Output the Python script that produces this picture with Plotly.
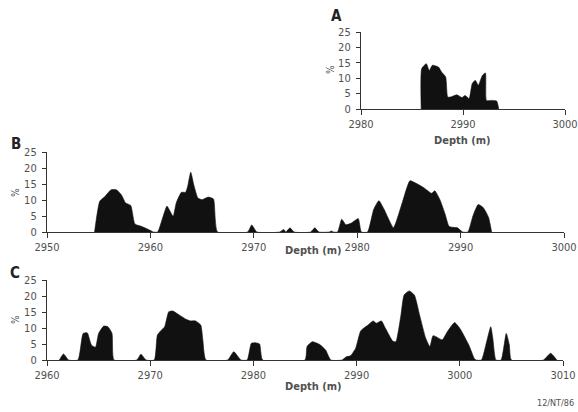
import plotly.graph_objects as go

# Percentage profiles versus depth for three wells (A, B, C)
depth_a = [2985.9, 2985.95, 2986.4, 2986.7, 2987.0, 2987.6, 2987.9, 2988.3, 2988.5, 2988.8,
           2989.4, 2989.9, 2990.2, 2990.6, 2990.9, 2991.2, 2991.5, 2991.9, 2992.2, 2992.3,
           2992.8, 2993.3, 2993.5]
pct_a = [0, 13.1, 14.7, 12.5, 14.2, 13.6, 12.0, 10.4, 3.9, 3.9,
         4.6, 3.7, 4.4, 3.4, 8.2, 9.3, 7.7, 10.9, 11.7, 2.8,
         2.8, 2.6, 0]

depth_b = [2954.6, 2955.1, 2955.6, 2956.2, 2956.7, 2957.2, 2957.6, 2958.1, 2958.5, 2959.1,
           2959.8, 2960.3, 2960.7, 2961.2, 2961.6, 2961.8, 2962.2, 2962.5, 2963.0, 2963.4,
           2963.6, 2963.9, 2964.2, 2964.6, 2965.0, 2965.6, 2966.1, 2966.5,
           2969.4, 2969.8, 2970.3, 2972.5, 2972.9, 2973.1, 2973.5, 2973.9,
           2975.5, 2975.9, 2976.3, 2977.3, 2977.5, 2977.7,
           2978.1, 2978.5, 2978.9, 2979.4, 2980.1, 2980.4,
           2981.0, 2981.6, 2982.1, 2982.6, 2983.5, 2983.8, 2984.4, 2985.1, 2985.7, 2986.5,
           2987.2, 2987.5, 2988.0, 2988.5, 2988.9, 2989.7, 2990.2,
           2990.7, 2991.2, 2991.7, 2992.2, 2992.7, 2993.0]
pct_b = [0, 9.6, 11.1, 13.2, 13.2, 11.6, 9.1, 8.3, 2.5, 1.8,
         0.8, 0, 0, 4.6, 8.1, 7.1, 4.9, 9.1, 12.4, 12.4,
         14.2, 18.7, 14.7, 10.6, 10.1, 10.9, 10.3, 0,
         0, 2.2, 0, 0, 0.8, 0, 1.3, 0,
         0, 1.3, 0, 0, 0.3, 0,
         0, 4.0, 2.3, 2.7, 4.2, 0,
         0, 7.1, 9.8, 7.1, 1.3, 3.5, 9.6, 16.0, 15.2, 13.7,
         12.1, 12.9, 10.1, 5.6, 1.7, 1.3, 0,
         0, 5.1, 8.6, 7.6, 4.6, 0]

depth_c = [2961.2, 2961.6, 2962.1,
           2963.0, 2963.5, 2963.9, 2964.3, 2964.7, 2965.0, 2965.5, 2965.9, 2966.3, 2966.5,
           2968.7, 2969.1, 2969.6,
           2970.4, 2970.7, 2971.1, 2971.4, 2971.8, 2972.2, 2972.8, 2973.5, 2973.9, 2974.4,
           2974.9, 2975.1, 2975.4,
           2977.5, 2978.1, 2978.8,
           2979.4, 2979.8, 2980.2, 2980.6, 2980.9,
           2985.0, 2985.2, 2985.7, 2986.4, 2987.0, 2987.5,
           2988.6, 2989.0, 2989.4, 2989.9, 2990.4, 2991.1, 2991.6, 2991.9, 2992.4, 2992.8,
           2993.5, 2993.8, 2994.3, 2994.6, 2995.1, 2995.6, 2996.1, 2996.7, 2997.1, 2997.4,
           2997.7, 2998.3, 2998.8, 2999.5, 3000.1, 3000.9, 3001.4, 3001.6,
           3002.1, 3002.6, 3003.0, 3003.2, 3003.5,
           3004.0, 3004.5, 3004.8, 3005.0,
           3008.1, 3008.8, 3009.4]
pct_c = [0, 1.9, 0,
         0, 8.3, 8.5, 4.7, 4.0, 8.3, 10.6, 10.4, 8.3, 0,
         0, 1.8, 0,
         0, 7.8, 9.4, 10.4, 15.1, 15.3, 14.1, 12.7, 12.2, 12.2,
         10.9, 6.3, 0,
         0, 2.6, 0,
         0, 5.2, 5.4, 5.0, 0,
         0, 4.2, 5.7, 4.9, 3.1, 0,
         0, 1.0, 1.3, 3.6, 9.1, 10.9, 12.2, 11.5, 12.2, 9.9,
         5.9, 5.7, 14.1, 20.3, 21.6, 20.3, 14.1, 6.8, 4.2, 7.6,
         7.3, 6.3, 8.9, 11.7, 9.4, 4.5, 0.5, 0,
         0, 5.7, 10.4, 6.8, 0,
         0, 8.3, 4.7, 0,
         0, 2.1, 0]

y_ticks = [0, 5, 10, 15, 20, 25]
x_range_a = [2980, 3000]
x_range_b = [2950, 3000]
x_range_c = [2960, 3010]
panel_labels = ["A", "B", "C"]
x_title = "Depth (m)"
y_title = "%"
footer = "12/NT/86"

W, H = 578, 412
FONT = "DejaVu Sans Condensed, Liberation Sans Narrow, Arial, sans-serif"
TICK_COLOR = "#505050"
LINE_COLOR = "#333333"


def fx(px):
    return px / W


def fy(py):
    return 1 - py / H


# panel geometry in pixels: (x_left, x_right, y_zero, y_top)
panels = [
    (361, 565, 109, 32),
    (47, 564, 232, 152),
    (47, 563, 360, 280),
]
# x-axis title centres and y-axis title centres, in pixels
xtitle_pos = [(463, 141), (313, 251), (313, 386)]
ytitle_pos = [(330, 70), (15, 193), (15, 320)]
series = [(depth_a, pct_a, x_range_a), (depth_b, pct_b, x_range_b), (depth_c, pct_c, x_range_c)]

fig = go.Figure()
layout = dict(
    width=W, height=H,
    margin=dict(l=0, r=0, t=0, b=0, pad=0, autoexpand=False),
    paper_bgcolor="white", plot_bgcolor="white",
    showlegend=False,
    font=dict(family=FONT, color=TICK_COLOR, size=11),
)
annotations = []

for i, ((x0, x1, yz, yt), (dx, dy, xr)) in enumerate(zip(panels, series)):
    n = "" if i == 0 else str(i + 1)
    fig.add_trace(go.Scatter(
        x=dx, y=dy, mode="lines", fill="tozeroy",
        line=dict(color="#111111", width=0.6, shape="spline", smoothing=0.5),
        fillcolor="#111111",
        xaxis="x" + n, yaxis="y" + n,
        hoverinfo="skip",
    ))
    layout["xaxis" + n] = dict(
        domain=[fx(x0), fx(x1)], range=xr, anchor="y" + n,
        showline=True, linecolor=LINE_COLOR, linewidth=1.2,
        ticks="outside", ticklen=5, tickcolor=LINE_COLOR, tickwidth=1.2,
        dtick=10, tick0=xr[0], showgrid=False, zeroline=False,
        tickfont=dict(size=11, color=TICK_COLOR, family=FONT),
        fixedrange=True, automargin=False,
    )
    layout["yaxis" + n] = dict(
        domain=[fy(yz), fy(yt)], range=[0, 25], anchor="x" + n,
        showline=True, linecolor=LINE_COLOR, linewidth=1.2,
        ticks="outside", ticklen=4, tickcolor=LINE_COLOR, tickwidth=1.2,
        tickvals=y_ticks, showgrid=False, zeroline=False,
        ticklabelstandoff=3,
        tickfont=dict(size=11, color=TICK_COLOR, family=FONT),
        fixedrange=True, automargin=False,
    )
    tx, ty = xtitle_pos[i]
    annotations.append(dict(
        text="<b>" + x_title + "</b>", x=fx(tx), y=fy(ty), xref="paper", yref="paper",
        showarrow=False, font=dict(size=11, color=TICK_COLOR, family=FONT),
        xanchor="center", yanchor="middle",
    ))
    px_, py_ = ytitle_pos[i]
    annotations.append(dict(
        text=y_title, x=fx(px_), y=fy(py_), xref="paper", yref="paper",
        showarrow=False, textangle=-90, font=dict(size=10, color=TICK_COLOR, family=FONT),
        xanchor="center", yanchor="middle",
    ))

# panel letters
for lab, (px, py) in zip(panel_labels, [(336, 16), (16, 144), (15, 273)]):
    annotations.append(dict(
        text="<b>" + lab + "</b>", x=fx(px), y=fy(py), xref="paper", yref="paper",
        showarrow=False, font=dict(size=15, color="#222222", family=FONT),
        xanchor="center", yanchor="middle",
    ))

annotations.append(dict(
    text=footer, x=fx(576), y=fy(403), xref="paper", yref="paper",
    showarrow=False, font=dict(size=9, color=TICK_COLOR, family=FONT),
    xanchor="right", yanchor="middle",
))

layout["annotations"] = annotations
fig.update_layout(**layout)
fig.write_html("out.html")
